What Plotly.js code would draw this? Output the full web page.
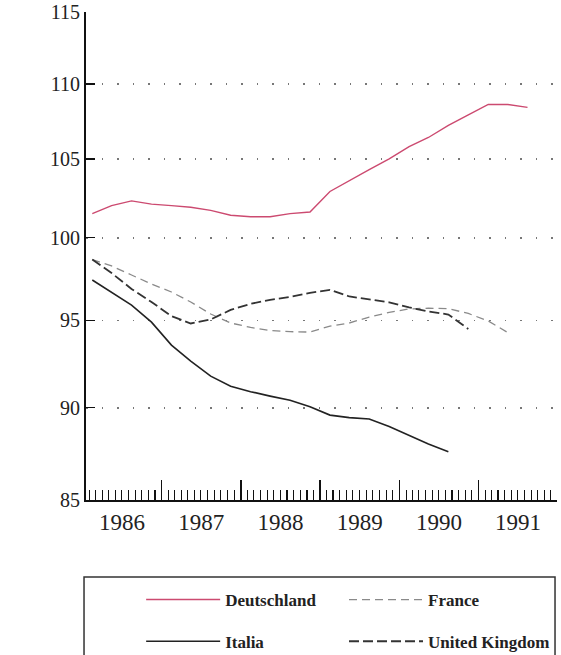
<!DOCTYPE html>
<html>
<head>
<meta charset="utf-8">
<script src="https://cdn.plot.ly/plotly-3.0.1.min.js"></script>
<style>
  html, body { margin: 0; padding: 0; background: #ffffff; }
  #chart { width: 561px; height: 655px; }
</style>
</head>
<body>
<div id="chart"></div>
<script>
// Quarterly observations (plotted at mid-quarter)
const quarters = [
  '1986-02-15','1986-05-15','1986-08-15','1986-11-15',
  '1987-02-15','1987-05-15','1987-08-15','1987-11-15',
  '1988-02-15','1988-05-15','1988-08-15','1988-11-15',
  '1989-02-15','1989-05-15','1989-08-15','1989-11-15',
  '1990-02-15','1990-05-15','1990-08-15','1990-11-15',
  '1991-02-15','1991-05-15','1991-08-15'
];
const deutschland = [101.5,102.0,102.3,102.1,102.0,101.9,101.7,101.4,101.3,101.3,101.5,101.6,
                     102.9,103.6,104.3,105.0,105.8,106.4,107.2,107.9,108.6,108.6,108.4];
const france      = [98.65,98.26,97.71,97.17,96.69,96.09,95.38,94.85,94.59,94.41,94.34,94.32,
                     94.67,94.85,95.20,95.47,95.68,95.72,95.70,95.41,94.97,94.30];
const italia      = [97.41,96.65,95.91,94.90,93.56,92.64,91.78,91.21,90.90,90.65,90.42,90.06,
                     89.59,89.45,89.37,88.96,88.49,88.00,87.58];
const uk          = [98.65,97.83,96.87,96.09,95.26,94.82,95.06,95.62,95.98,96.22,96.39,96.64,
                     96.82,96.42,96.25,96.07,95.77,95.53,95.35,94.50];
const yTicks = [85, 90, 95, 100, 105, 110, 115];
const seriesNames = ['Deutschland', 'France', 'Italia', 'United Kingdom'];

const serif = 'Liberation Serif, DejaVu Serif, serif';

const traces = [
  {x: quarters.slice(0, deutschland.length), y: deutschland, name: seriesNames[0], type: 'scatter', mode: 'lines',
   line: {color: '#cc4a70', width: 1.4}, legend: 'legend'},
  {x: quarters.slice(0, france.length), y: france, name: seriesNames[1], type: 'scatter', mode: 'lines',
   line: {color: '#8a8a8a', width: 1.3, dash: '8px,5px'}, legend: 'legend2'},
  {x: quarters.slice(0, italia.length), y: italia, name: seriesNames[2], type: 'scatter', mode: 'lines',
   line: {color: '#222222', width: 1.6}, legend: 'legend3'},
  {x: quarters.slice(0, uk.length), y: uk, name: seriesNames[3], type: 'scatter', mode: 'lines',
   line: {color: '#333333', width: 1.8, dash: '10px,4px'}, legend: 'legend4'}
];

const xRange = ['1986-01-17', '1991-12-29'];

const legendCommon = {
  orientation: 'h', xanchor: 'left', yanchor: 'middle',
  xref: 'container', yref: 'container',
  font: {family: serif, size: 17, color: '#222', weight: 'bold'},
  bgcolor: 'rgba(0,0,0,0)', borderwidth: 0,
  itemwidth: 74
};

const layout = {
  width: 561, height: 655,
  margin: {l: 86, r: 4, t: 12, b: 155},
  paper_bgcolor: '#ffffff', plot_bgcolor: '#ffffff',
  showlegend: true,
  legend:  Object.assign({}, legendCommon, {x: 0.2516, y: 0.084}),
  legend2: Object.assign({}, legendCommon, {x: 0.6132, y: 0.084}),
  legend3: Object.assign({}, legendCommon, {x: 0.2516, y: 0.0203}),
  legend4: Object.assign({}, legendCommon, {x: 0.6132, y: 0.0203}),
  xaxis: {
    type: 'date', range: xRange,
    showline: true, linecolor: '#111', linewidth: 2,
    showgrid: false, zeroline: false,
    ticks: 'inside', ticklen: 20, tickwidth: 1.5, tickcolor: '#111',
    dtick: 'M12', tick0: '1986-01-01', tickformat: '%Y', ticklabelmode: 'period',
    tickfont: {family: serif, size: 23, color: '#222'},
    minor: {dtick: 'M1', tick0: '1986-01-01', ticks: 'inside', ticklen: 10, tickwidth: 1.1, tickcolor: '#111', showgrid: false}
  },
  xaxis2: {
    type: 'date', range: xRange, overlaying: 'x', anchor: 'y', side: 'bottom',
    showline: false, showgrid: false, zeroline: false, showticklabels: false,
    ticks: 'inside', ticklen: 16, tickwidth: 1.2, tickcolor: '#111',
    dtick: 'M2', tick0: '1986-01-01'
  },
  yaxis: {
    type: 'log', range: [Math.log10(85), Math.log10(115)],
    tickmode: 'array', tickvals: yTicks, ticktext: yTicks.map(String),
    showline: true, linecolor: '#111', linewidth: 2,
    ticks: 'inside', ticklen: 9, tickwidth: 1.5, tickcolor: '#111',
    showgrid: true, gridcolor: '#777', gridwidth: 1.8, griddash: '1.8px,13.7px',
    zeroline: false,
    tickfont: {family: serif, size: 20, color: '#222'}
  },
  shapes: [
    {type: 'rect', xref: 'paper', yref: 'paper', x0: -0.0042, x1: 0.9958, y0: -0.1578, y1: -0.34,
     line: {color: '#333', width: 1.5}, fillcolor: 'rgba(0,0,0,0)'}
  ]
};

Plotly.newPlot('chart', traces, layout, {displayModeBar: false, staticPlot: true});
</script>
</body>
</html>
